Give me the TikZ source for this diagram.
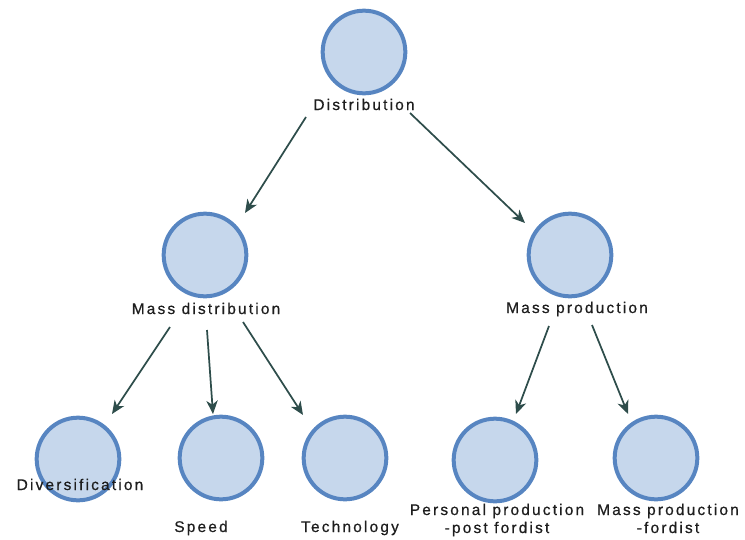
\documentclass[tikz,border=0pt]{standalone}
\usepackage{fontspec}
\setmainfont{Liberation Sans}[LetterSpace=14,FakeBold=0.6]
\usetikzlibrary{arrows.meta}
\definecolor{cfill}{HTML}{C6D7EC}
\definecolor{cline}{HTML}{5785C1}
\definecolor{arr}{HTML}{2E4D4B}
\definecolor{txt}{HTML}{1E1E1E}
\begin{document}
\begin{tikzpicture}[x=0.75pt,y=-0.75pt,
 bubble/.style={circle,draw=cline,fill=cfill,line width=3pt,minimum size=62pt,inner sep=0pt},
 lbl/.style={font=\fontsize{11.6pt}{13.5pt}\selectfont,text=txt,inner sep=0pt,anchor=base,align=center},
 link/.style={draw=arr,line width=1.3pt,-{Stealth[length=10pt,width=8.5pt,inset=3pt]}}]
\useasboundingbox (0,0) rectangle (745,539);
% circles
\node[bubble] (top) at (364,52) {};
\node[bubble] (md) at (205,255) {};
\node[bubble] (mp) at (570,255) {};
\node[bubble] (div) at (78,459) {};
\node[bubble] (spd) at (221,458) {};
\node[bubble] (tec) at (345,458) {};
\node[bubble] (pp) at (495,460) {};
\node[bubble] (mpf) at (656,458) {};
% labels
\node[lbl] (ltop) at (364,110) {Distribution};
\node[lbl] (lmd) at (206,314) {Mass distribution};
\node[lbl] (lmp) at (577,313) {Mass production};
\node[lbl] (ldiv) at (80,490) {Diversification};
\node[lbl] (lspd) at (201,532) {Speed};
\node[lbl] (ltec) at (350,532) {Technology};
\node[lbl] (lpp) at (497,533) {Personal production\\-post fordist};
\node[lbl] (lmpf) at (668,533) {Mass production\\-fordist};
% connector end points
\coordinate (s1) at (306,117); \coordinate (e1) at (245,213);
\coordinate (s2) at (410,113); \coordinate (e2) at (525,223);
\coordinate (s3) at (170,327); \coordinate (e3) at (112,414);
\coordinate (s4) at (207,330); \coordinate (e4) at (213,414);
\coordinate (s5) at (243,322); \coordinate (e5) at (303,415);
\coordinate (s6) at (549,326); \coordinate (e6) at (516,414);
\coordinate (s7) at (592,325); \coordinate (e7) at (628,414);
\draw[link] (s1) -- (e1);
\draw[link] (s2) -- (e2);
\draw[link] (s3) -- (e3);
\draw[link] (s4) -- (e4);
\draw[link] (s5) -- (e5);
\draw[link] (s6) -- (e6);
\draw[link] (s7) -- (e7);
\end{tikzpicture}
\end{document}
